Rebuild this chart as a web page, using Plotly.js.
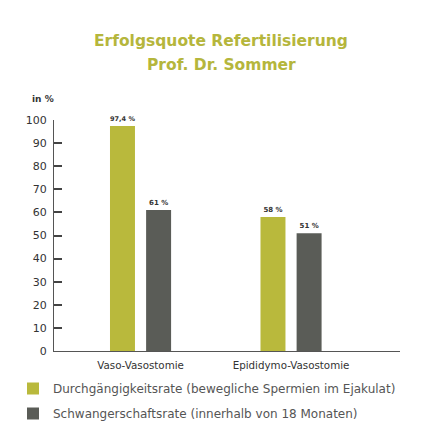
<!DOCTYPE html>
<html>
<head>
<meta charset="utf-8">
<script src="https://cdn.plot.ly/plotly-3.0.1.min.js"></script>
<style>html,body{margin:0;padding:0;background:#fff;}#chart{width:443px;height:443px;}</style>
</head>
<body>
<div id="chart"></div>
<script>
const categories = ["Vaso-Vasostomie", "Epididymo-Vasostomie"];
const seriesNames = ["Durchgängigkeitsrate (bewegliche Spermien im Ejakulat)", "Schwangerschaftsrate (innerhalb von 18 Monaten)"];
const durchgaengigkeit = [97.4, 58];
const schwangerschaft = [61, 51];
const labelsDurch = ["97,4 %", "58 %"];
const labelsSchw = ["61 %", "51 %"];
const yTicks = [0, 10, 20, 30, 40, 50, 60, 70, 80, 90, 100];

const GREEN = "#b9b93c";
const GREY = "#5a5c57";
const FONT = "DejaVu Sans, sans-serif";

const traces = [
  {
    type: "bar", x: categories, y: durchgaengigkeit, name: seriesNames[0],
    marker: {color: GREEN}, text: labelsDurch, textposition: "outside",
    texttemplate: "<b>%{text}</b>",
    textfont: {family: FONT, size: 7, color: "#333"}, cliponaxis: false,
    width: 0.166, offset: -0.203, legendgroup: "a", hoverinfo: "none"
  },
  {
    type: "bar", x: categories, y: schwangerschaft, name: seriesNames[1],
    marker: {color: GREY}, text: labelsSchw, textposition: "outside",
    texttemplate: "<b>%{text}</b>",
    textfont: {family: FONT, size: 7, color: "#333"}, cliponaxis: false,
    width: 0.166, offset: 0.037, legendgroup: "b", hoverinfo: "none"
  }
];

const layout = {
  width: 443, height: 443,
  margin: {l: 54, r: 43, t: 119.5, b: 92, autoexpand: false},
  paper_bgcolor: "#fff", plot_bgcolor: "#fff",
  showlegend: true,
  xaxis: {
    type: "category", range: [-0.575, 1.724], showgrid: false, zeroline: false,
    showline: true, linecolor: "#555", linewidth: 1, ticks: "",
    tickfont: {family: FONT, size: 10.3, color: "#333"}, ticklabelstandoff: 5,
    fixedrange: true
  },
  yaxis: {
    range: [0, 100], tickvals: yTicks, showgrid: false, zeroline: false,
    showline: true, linecolor: "#555", linewidth: 1,
    ticks: "inside", ticklen: 8, tickwidth: 2, tickcolor: "#444",
    tickfont: {family: FONT, size: 11, color: "#333"}, ticklabelstandoff: 4,
    fixedrange: true
  },
  legend: {
    xref: "container", yref: "container",
    x: 13 / 443, xanchor: "left", y: 1 - 374 / 443, yanchor: "top",
    orientation: "v", tracegroupgap: 6,
    font: {family: FONT, size: 12, color: "#555"},
    bgcolor: "rgba(0,0,0,0)"
  },
  annotations: [
    {text: "<b>Erfolgsquote Refertilisierung</b>", xref: "paper", yref: "paper",
     x: 167 / 346, y: (351 - 40) / 231.5, xanchor: "center", yanchor: "middle", showarrow: false,
     font: {family: FONT, size: 15.5, color: "#b5b63c"}},
    {text: "<b>Prof. Dr. Sommer</b>", xref: "paper", yref: "paper",
     x: 167 / 346, y: (351 - 64) / 231.5, xanchor: "center", yanchor: "middle", showarrow: false,
     font: {family: FONT, size: 15.5, color: "#b5b63c"}},
    {text: "<b>in %</b>", xref: "paper", yref: "paper", x: -24 / 346, y: (351 - 98) / 231.5,
     xanchor: "left", yanchor: "middle", showarrow: false,
     font: {family: FONT, size: 9, color: "#333"}}
  ]
};

Plotly.newPlot("chart", traces, layout, {displayModeBar: false, staticPlot: true});
</script>
</body>
</html>
